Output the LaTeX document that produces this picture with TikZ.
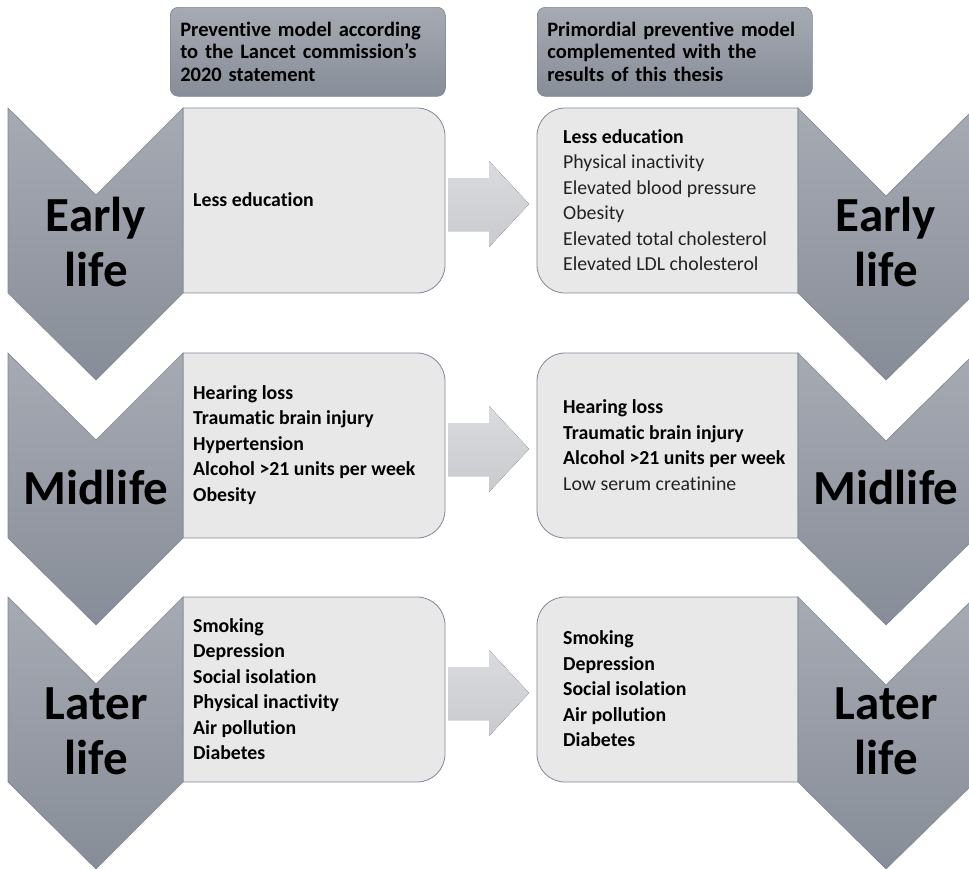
\documentclass[tikz,border=0pt]{standalone}
\usepackage{fontspec}
\setmainfont[Ligatures=CommonOff]{Carlito}
\definecolor{chevtop}{HTML}{A6AAB3}
\definecolor{chevbot}{HTML}{878D98}
\definecolor{chevline}{HTML}{7E8694}
\definecolor{boxfill}{HTML}{E8E8E8}
\definecolor{boxline}{HTML}{7F8898}
\definecolor{arrtop}{HTML}{DADBDE}
\definecolor{arrbot}{HTML}{C8CACD}
\definecolor{txtgray}{HTML}{222222}
\newcommand{\thesisrisk}[1]{{\mdseries\color{txtgray}#1}}
\tikzset{
  chevron/.style={top color=chevtop, bottom color=chevbot, draw=chevline, line width=0.6pt},
  riskbox/.style={fill=boxfill, draw=boxline, line width=0.8pt},
  blockarrow/.style={top color=arrtop, bottom color=arrbot},
  header/.style={anchor=north west, rounded corners=8pt, top color=chevtop, bottom color=chevbot,
    draw=chevline, line width=0.6pt, text width=255pt, inner xsep=10pt, minimum height=89pt, align=left,
    font=\fontsize{20.5}{22.5}\selectfont\bfseries},
  risk/.style={anchor=west, align=left, inner sep=0pt, font=\fontsize{19.8}{25.5}\selectfont\bfseries},
  stage/.style={align=center, inner sep=0pt, font=\fontsize{49}{55}\selectfont\bfseries},
}
\begin{document}
\begin{tikzpicture}[x=1pt,y=1pt]
    \useasboundingbox (0,0) rectangle (969,-868);
    \clip (0,0) rectangle (969,-868);
    \foreach \t in {108,353,597}{
      \draw[riskbox] (183,-\t) -- (417,-\t) arc[start angle=90,end angle=0,radius=28] -- (445,-\t-157)
        arc[start angle=0,end angle=-90,radius=28] -- (183,-\t-185) -- cycle; % left box
      \draw[chevron] (8,-\t) -- (96,-\t-87) -- (183,-\t) -- (183,-\t-185) -- (96,-\t-272) -- (8,-\t-185) -- cycle; % left chevron
      \draw[riskbox] (798,-\t) -- (565,-\t) arc[start angle=90,end angle=180,radius=28] -- (537,-\t-157)
        arc[start angle=180,end angle=270,radius=28] -- (798,-\t-185) -- cycle; % right box
      \draw[chevron] (798,-\t) -- (886,-\t-88) -- (975,-\t) -- (975,-\t-185) -- (886,-\t-272) -- (798,-\t-185) -- cycle; % right chevron
      \fill[blockarrow] (448,-\t-70) -- (489,-\t-70) -- (489,-\t-53) -- (529,-\t-96) -- (489,-\t-139)
        -- (489,-\t-123) -- (448,-\t-123) -- cycle; % block arrow
    }
    \node[header] (lancet) at (170,-7) {Preventive model according\\to the Lancet commission’s\\2020 statement};
    \node[header] (thesis) at (537,-7) {Primordial preventive model\\complemented with the\\results of this thesis};
    \node[stage] (earlyL) at (96,-242) {Early\\life};
    \node[stage] (midL) at (96,-487) {Midlife};
    \node[stage] (lateL) at (96,-731) {Later\\life};
    \node[stage] (earlyR) at (886,-242) {Early\\life};
    \node[stage] (midR) at (886,-487) {Midlife};
    \node[stage] (lateR) at (886,-731) {Later\\life};
    \node[risk] (earlyA) at (193,-200) {Less education};
    \node[risk] (midA) at (193,-445) {Hearing loss\\Traumatic brain injury\\Hypertension\\Alcohol >21 units per week\\Obesity};
    \node[risk] (lateA) at (193,-689) {Smoking\\Depression\\Social isolation\\Physical inactivity\\Air pollution\\Diabetes};
    \node[risk] (earlyB) at (563,-200) {Less education\\\thesisrisk{Physical inactivity}\\\thesisrisk{Elevated blood pressure}\\\thesisrisk{Obesity}\\\thesisrisk{Elevated total cholesterol}\\\thesisrisk{Elevated LDL cholesterol}};
    \node[risk] (midB) at (563,-445) {Hearing loss\\Traumatic brain injury\\Alcohol >21 units per week\\\thesisrisk{Low serum creatinine}};
    \node[risk] (lateB) at (563,-689) {Smoking\\Depression\\Social isolation\\Air pollution\\Diabetes};
\end{tikzpicture}
\end{document}
